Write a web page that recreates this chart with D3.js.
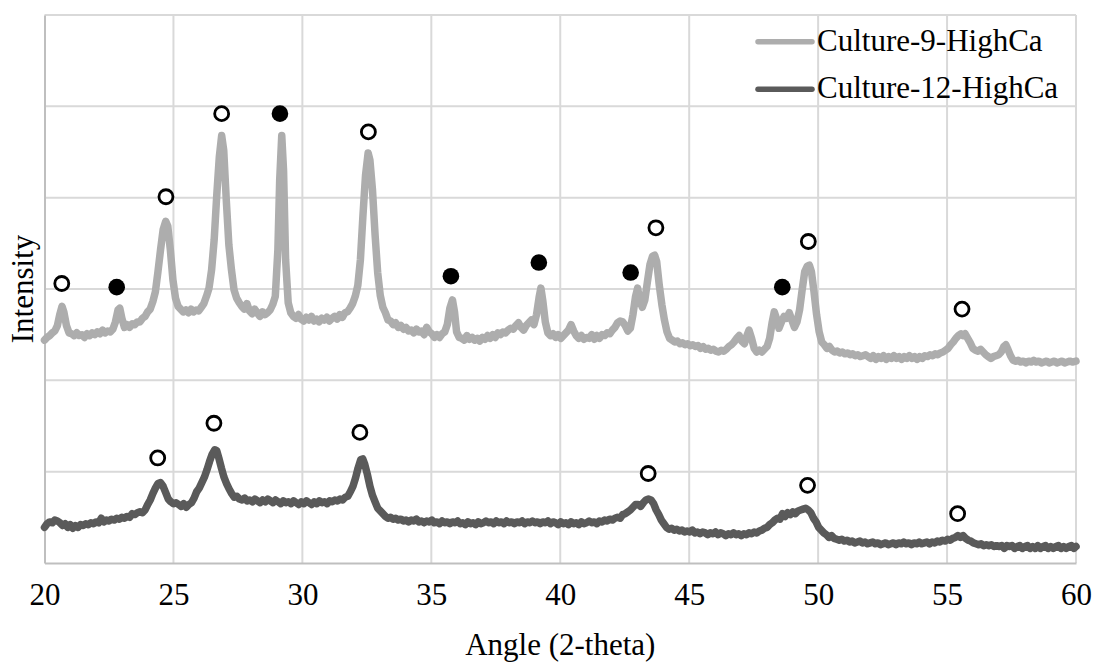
<!DOCTYPE html>
<html>
<head>
<meta charset="utf-8">
<script src="https://cdn.jsdelivr.net/npm/d3@7"></script>
<style>
  html, body { margin: 0; padding: 0; background: #fff; }
  svg { display: block; }
  svg text { font-family: 'Liberation Serif', 'Times New Roman', serif; }
</style>
</head>
<body>
<svg id="chart" width="1096" height="662"></svg>
<script>
// X-ray diffraction patterns: [2-theta angle, intensity (a.u.)]
const seriesNames = ["Culture-9-HighCa", "Culture-12-HighCa"];

const culture9 = [
[20.00,244],[20.10,247],[20.20,249],[20.30,252],[20.40,254],[20.50,260],[20.60,273],[20.68,281],[20.75,275],[20.85,260],
[20.95,252],[21.05,251],[21.15,249],[21.25,252],[21.35,249],[21.45,250],[21.55,247],[21.65,251],[21.75,249],[21.85,252],
[21.95,250],[22.05,253],[22.15,251],[22.25,255],[22.35,252],[22.45,254],[22.55,253],[22.65,256],[22.75,264],[22.85,277],
[22.92,279],[23.00,268],[23.10,258],[23.20,261],[23.30,258],[23.40,262],[23.50,261],[23.60,264],[23.70,264],[23.80,268],
[23.90,270],[24.00,275],[24.10,278],[24.20,286],[24.30,297],[24.40,319],[24.50,343],[24.60,365],[24.70,374],[24.78,369],
[24.88,343],[24.98,310],[25.08,290],[25.18,281],[25.28,278],[25.38,275],[25.48,277],[25.58,274],[25.68,278],[25.78,275],
[25.88,277],[25.98,276],[26.08,280],[26.18,284],[26.28,292],[26.38,301],[26.48,321],[26.58,354],[26.68,403],[26.78,445],
[26.87,468],[26.95,452],[27.05,397],[27.15,348],[27.25,321],[27.35,299],[27.45,290],[27.55,285],[27.65,281],[27.75,278],
[27.85,284],[27.95,276],[28.05,273],[28.15,278],[28.25,274],[28.35,270],[28.45,275],[28.55,272],[28.65,274],[28.75,277],
[28.85,283],[28.95,292],[29.05,343],[29.12,419],[29.20,468],[29.27,430],[29.35,332],[29.45,285],[29.55,274],[29.65,270],
[29.75,268],[29.85,272],[29.95,267],[30.05,265],[30.15,269],[30.25,266],[30.35,270],[30.45,265],[30.55,267],[30.65,264],
[30.75,268],[30.85,266],[30.95,269],[31.05,265],[31.15,268],[31.25,270],[31.35,267],[31.45,272],[31.55,269],[31.65,274],
[31.75,275],[31.85,279],[31.95,284],[32.05,292],[32.15,304],[32.25,332],[32.35,381],[32.45,425],[32.55,449],[32.62,441],
[32.72,408],[32.82,359],[32.92,318],[33.02,293],[33.12,280],[33.22,274],[33.32,266],[33.42,265],[33.52,261],[33.62,263],
[33.72,258],[33.82,260],[33.92,256],[34.02,258],[34.12,254],[34.22,255],[34.32,252],[34.42,256],[34.52,253],[34.62,254],
[34.72,250],[34.82,258],[34.92,253],[35.02,251],[35.12,247],[35.22,250],[35.32,247],[35.42,251],[35.52,253],[35.62,261],
[35.72,279],[35.82,288],[35.90,275],[35.98,253],[36.08,247],[36.18,246],[36.28,244],[36.38,249],[36.48,245],[36.58,247],
[36.68,244],[36.78,246],[36.88,243],[36.98,247],[37.08,245],[37.18,249],[37.28,246],[37.38,250],[37.48,247],[37.58,252],
[37.68,250],[37.78,253],[37.88,252],[37.98,255],[38.08,257],[38.18,256],[38.28,260],[38.38,263],[38.48,258],[38.58,255],
[38.68,260],[38.78,263],[38.88,266],[38.98,261],[39.08,272],[39.18,291],[39.25,301],[39.32,288],[39.42,264],[39.52,252],
[39.62,249],[39.72,251],[39.82,247],[39.92,250],[40.02,246],[40.12,249],[40.22,252],[40.32,255],[40.42,261],[40.52,254],
[40.62,249],[40.72,246],[40.82,249],[40.92,245],[41.02,247],[41.12,246],[41.22,250],[41.32,245],[41.42,249],[41.52,246],
[41.62,250],[41.72,249],[41.82,252],[41.92,251],[42.02,255],[42.12,258],[42.22,263],[42.32,265],[42.42,264],[42.52,260],
[42.62,254],[42.72,257],[42.82,272],[42.92,292],[43.00,301],[43.08,288],[43.18,280],[43.28,288],[43.38,308],[43.48,327],
[43.58,336],[43.66,337],[43.74,330],[43.84,304],[43.94,283],[44.04,266],[44.14,253],[44.24,246],[44.34,244],[44.44,242],
[44.54,243],[44.64,240],[44.74,241],[44.84,239],[44.94,240],[45.04,238],[45.14,239],[45.24,237],[45.34,238],[45.44,235],
[45.54,237],[45.64,234],[45.74,235],[45.84,233],[45.94,234],[46.04,232],[46.14,231],[46.24,233],[46.34,232],[46.44,234],
[46.54,237],[46.64,239],[46.74,242],[46.84,246],[46.94,249],[47.04,243],[47.14,240],[47.24,249],[47.32,255],[47.42,246],
[47.52,235],[47.62,231],[47.72,233],[47.82,231],[47.92,234],[48.02,237],[48.12,246],[48.22,264],[48.30,275],[48.38,268],
[48.48,257],[48.58,264],[48.68,270],[48.78,268],[48.88,274],[48.98,266],[49.08,258],[49.18,264],[49.28,277],[49.38,299],
[49.48,319],[49.58,325],[49.66,326],[49.74,319],[49.84,297],[49.94,272],[50.04,253],[50.14,242],[50.24,239],[50.34,235],
[50.44,237],[50.54,233],[50.64,231],[50.74,232],[50.84,230],[50.94,231],[51.04,229],[51.14,230],[51.24,228],[51.34,229],
[51.44,227],[51.54,228],[51.64,226],[51.74,227],[51.84,228],[51.94,226],[52.04,224],[52.14,227],[52.24,223],[52.34,226],
[52.44,224],[52.54,227],[52.64,223],[52.74,226],[52.84,224],[52.94,227],[53.04,224],[53.14,226],[53.24,223],[53.34,226],
[53.44,224],[53.54,227],[53.64,224],[53.74,226],[53.84,223],[53.94,226],[54.04,224],[54.14,227],[54.24,226],[54.34,228],
[54.44,227],[54.54,229],[54.64,228],[54.74,230],[54.84,231],[54.94,233],[55.04,235],[55.14,239],[55.24,242],[55.34,246],
[55.44,249],[55.54,251],[55.62,249],[55.70,251],[55.80,246],[55.90,241],[56.00,235],[56.10,233],[56.20,232],[56.30,234],
[56.40,231],[56.50,228],[56.60,226],[56.70,224],[56.80,226],[56.90,227],[57.00,228],[57.10,231],[57.20,237],[57.28,239],
[57.36,234],[57.46,227],[57.56,222],[57.66,221],[57.76,222],[57.86,220],[57.96,221],[58.06,219],[58.16,221],[58.26,220],
[58.36,222],[58.46,220],[58.56,221],[58.66,219],[58.76,220],[58.86,221],[58.96,219],[59.06,220],[59.16,221],[59.26,219],
[59.36,220],[59.46,221],[59.56,219],[59.66,220],[59.76,221],[59.86,220],[60.00,221]
];

const culture12 = [
[20.00,39],[20.10,43],[20.20,45],[20.30,44],[20.40,47],[20.50,46],[20.60,44],[20.70,41],[20.80,43],[20.90,39],
[21.00,42],[21.10,38],[21.20,41],[21.30,39],[21.40,42],[21.50,41],[21.60,43],[21.70,42],[21.80,44],[21.90,43],
[22.00,45],[22.10,44],[22.20,49],[22.30,45],[22.40,47],[22.50,46],[22.60,48],[22.70,47],[22.80,49],[22.90,48],
[23.00,50],[23.10,49],[23.20,51],[23.30,50],[23.40,54],[23.50,53],[23.60,55],[23.70,56],[23.80,55],[23.90,58],
[24.00,64],[24.10,69],[24.20,76],[24.30,82],[24.40,87],[24.50,88],[24.60,84],[24.70,77],[24.80,70],[24.90,67],
[25.00,65],[25.10,66],[25.20,64],[25.30,62],[25.40,65],[25.50,61],[25.60,64],[25.70,66],[25.80,71],[25.90,78],
[26.00,82],[26.10,88],[26.20,94],[26.30,102],[26.40,111],[26.50,119],[26.60,124],[26.68,123],[26.76,115],[26.86,104],
[26.96,94],[27.06,87],[27.16,81],[27.26,76],[27.36,72],[27.46,73],[27.56,70],[27.66,69],[27.76,71],[27.86,68],
[27.96,69],[28.06,67],[28.16,70],[28.26,68],[28.36,66],[28.46,69],[28.56,67],[28.66,70],[28.76,68],[28.86,66],
[28.96,69],[29.06,67],[29.16,65],[29.26,68],[29.36,66],[29.46,67],[29.56,65],[29.66,68],[29.76,66],[29.86,64],
[29.96,67],[30.06,65],[30.16,68],[30.26,66],[30.36,64],[30.46,67],[30.56,65],[30.66,68],[30.76,66],[30.86,67],
[30.96,65],[31.06,68],[31.16,67],[31.26,69],[31.36,68],[31.46,70],[31.56,69],[31.66,72],[31.76,73],[31.86,78],
[31.96,84],[32.06,93],[32.16,104],[32.26,113],[32.34,114],[32.42,108],[32.52,97],[32.62,84],[32.72,74],[32.82,67],
[32.92,60],[33.02,57],[33.12,54],[33.22,51],[33.32,49],[33.42,50],[33.52,48],[33.62,49],[33.72,47],[33.82,48],
[33.92,46],[34.02,47],[34.12,45],[34.22,47],[34.32,46],[34.42,48],[34.52,45],[34.62,46],[34.72,44],[34.82,46],
[34.92,45],[35.02,47],[35.12,44],[35.22,45],[35.32,43],[35.42,46],[35.52,44],[35.62,45],[35.72,43],[35.82,45],
[35.92,44],[36.02,46],[36.12,43],[36.22,44],[36.32,42],[36.42,45],[36.52,43],[36.62,44],[36.72,42],[36.82,45],
[36.92,43],[37.02,44],[37.12,46],[37.22,44],[37.32,45],[37.42,43],[37.52,46],[37.62,44],[37.72,45],[37.82,43],
[37.92,46],[38.02,44],[38.12,45],[38.22,43],[38.32,45],[38.42,44],[38.52,46],[38.62,43],[38.72,45],[38.82,44],
[38.92,46],[39.02,44],[39.12,45],[39.22,43],[39.32,45],[39.42,44],[39.52,46],[39.62,43],[39.72,45],[39.82,44],
[39.92,42],[40.02,45],[40.12,43],[40.22,44],[40.32,42],[40.42,45],[40.52,43],[40.62,44],[40.72,42],[40.82,45],
[40.92,43],[41.02,44],[41.12,46],[41.22,44],[41.32,45],[41.42,43],[41.52,46],[41.62,45],[41.72,47],[41.82,46],
[41.92,48],[42.02,47],[42.12,49],[42.22,50],[42.32,49],[42.42,53],[42.52,54],[42.62,56],[42.72,58],[42.82,61],
[42.92,64],[43.02,64],[43.12,62],[43.22,66],[43.32,69],[43.42,70],[43.52,69],[43.62,65],[43.72,58],[43.82,53],
[43.92,47],[44.02,43],[44.12,39],[44.22,37],[44.32,38],[44.42,36],[44.52,37],[44.62,35],[44.72,36],[44.82,34],
[44.92,35],[45.02,34],[45.12,36],[45.22,33],[45.32,34],[45.42,32],[45.52,34],[45.62,33],[45.72,31],[45.82,33],
[45.92,32],[46.02,34],[46.12,31],[46.22,33],[46.32,32],[46.42,30],[46.52,32],[46.62,31],[46.72,33],[46.82,31],
[46.92,32],[47.02,30],[47.12,32],[47.22,31],[47.32,33],[47.42,32],[47.52,34],[47.62,33],[47.72,35],[47.82,36],
[47.92,38],[48.02,39],[48.12,42],[48.22,44],[48.32,47],[48.42,49],[48.52,48],[48.62,54],[48.72,51],[48.82,55],
[48.92,53],[49.02,56],[49.12,54],[49.22,57],[49.32,58],[49.42,59],[49.52,60],[49.62,58],[49.72,55],[49.82,49],
[49.92,45],[50.02,39],[50.12,36],[50.22,33],[50.32,31],[50.42,28],[50.52,30],[50.62,27],[50.72,26],[50.82,25],
[50.92,26],[51.02,24],[51.12,25],[51.22,23],[51.32,24],[51.42,22],[51.52,23],[51.62,24],[51.72,22],[51.82,23],
[51.92,21],[52.02,22],[52.12,23],[52.22,21],[52.32,22],[52.42,20],[52.52,21],[52.62,22],[52.72,20],[52.82,21],
[52.92,22],[53.02,20],[53.12,22],[53.22,21],[53.32,23],[53.42,21],[53.52,22],[53.62,20],[53.72,22],[53.82,21],
[53.92,23],[54.02,21],[54.12,22],[54.22,23],[54.32,21],[54.42,23],[54.52,22],[54.62,24],[54.72,23],[54.82,25],
[54.92,24],[55.02,26],[55.12,25],[55.22,27],[55.32,28],[55.42,30],[55.52,28],[55.62,30],[55.72,27],[55.82,25],
[55.92,24],[56.02,22],[56.12,21],[56.22,20],[56.32,21],[56.42,19],[56.52,20],[56.62,19],[56.72,20],[56.82,18],
[56.92,19],[57.02,18],[57.12,19],[57.22,16],[57.32,19],[57.42,18],[57.52,19],[57.62,16],[57.72,18],[57.82,19],
[57.92,16],[58.02,18],[58.12,19],[58.22,16],[58.32,18],[58.42,16],[58.52,19],[58.62,16],[58.72,18],[58.82,19],
[58.92,16],[59.02,18],[59.12,16],[59.22,18],[59.32,19],[59.42,16],[59.52,18],[59.62,16],[59.72,18],[59.82,19],
[59.92,16],[60.00,18]
];

// Phase markers placed above the reflections
const openMarks9 = [[20.67,306],[24.71,401],[26.87,492],[32.56,472],[43.71,367],[49.62,352],[55.58,278]];
const filledMarks9 = [[22.80,302],[29.13,492],[35.76,314],[39.17,329],[42.73,318],[48.61,302]];
const openMarks12 = [[24.39,115],[26.57,153],[32.23,143],[43.41,98],[49.59,85],[55.41,54]];

const xTicks = [20, 25, 30, 35, 40, 45, 50, 55, 60];
const yTicks = [0, 100, 200, 300, 400, 500, 600];
const xTitle = "Angle (2-theta)";
const yTitle = "Intensity";
const colors = ["#adadad", "#5a5a5a"];

const svg = d3.select("#chart");
const W = 1096, H = 662;
const m = { left: 44.5, right: W - 1076, top: 15, bottom: H - 563 };

const x = d3.scaleLinear().domain([20, 60]).range([m.left, W - m.right]);
const y = d3.scaleLinear().domain([0, 600]).range([H - m.bottom, m.top]);

const serif = "'Liberation Serif', 'Times New Roman', serif";

// Gridlines
const grid = svg.append("g");
grid.selectAll("line.v").data(xTicks.slice(1)).join("line")
  .attr("x1", d => x(d)).attr("x2", d => x(d))
  .attr("y1", y(0)).attr("y2", y(600))
  .attr("stroke", "#d9d9d9").attr("stroke-width", 2);
grid.selectAll("line.h").data(yTicks.slice(1)).join("line")
  .attr("x1", x(20)).attr("x2", x(60))
  .attr("y1", d => y(d)).attr("y2", d => y(d))
  .attr("stroke", "#d9d9d9").attr("stroke-width", 2);

// Axes
const xAxis = svg.append("g")
  .attr("transform", `translate(0,${y(0)})`)
  .call(d3.axisBottom(x).tickValues(xTicks).tickSize(0).tickPadding(20).tickFormat(d3.format("d")));
xAxis.attr("font-family", serif).attr("font-size", 31);
xAxis.select(".domain").attr("stroke", "#bfbfbf").attr("stroke-width", 2);
xAxis.selectAll("text").style("font-family", serif).style("font-size", "31px").attr("fill", "#000");

const yAxis = svg.append("g")
  .attr("transform", `translate(${x(20)},0)`)
  .call(d3.axisLeft(y).tickValues(yTicks).tickSize(0).tickFormat(""));
yAxis.select(".domain").attr("stroke", "#bfbfbf").attr("stroke-width", 2);

// Axis titles
svg.append("text")
  .attr("x", (x(20) + x(60)) / 2).attr("y", 655)
  .attr("text-anchor", "middle")
  .style("font-family", serif).style("font-size", "31px")
  .text(xTitle);
svg.append("text")
  .attr("transform", `translate(33,${(y(0) + y(600)) / 2}) rotate(-90)`)
  .attr("text-anchor", "middle")
  .style("font-family", serif).style("font-size", "31px")
  .text(yTitle);

// Diffraction traces
const line = d3.line().x(d => x(d[0])).y(d => y(d[1]));
[culture9, culture12].forEach((s, i) => {
  svg.append("path")
    .datum(s)
    .attr("d", line)
    .attr("fill", "none")
    .attr("stroke", colors[i])
    .attr("stroke-width", 7.5)
    .attr("stroke-linejoin", "round")
    .attr("stroke-linecap", "round");
});

// Markers
const marks = svg.append("g");
marks.selectAll("circle.open").data(openMarks9.concat(openMarks12)).join("circle")
  .attr("cx", d => x(d[0])).attr("cy", d => y(d[1])).attr("r", 7)
  .attr("fill", "#fff").attr("stroke", "#000").attr("stroke-width", 2.8);
marks.selectAll("circle.filled").data(filledMarks9).join("circle")
  .attr("cx", d => x(d[0])).attr("cy", d => y(d[1])).attr("r", 8.3)
  .attr("fill", "#000");

// Legend
const legend = svg.append("g");
seriesNames.forEach((name, i) => {
  const ly = 41.7 + i * 47.6;
  legend.append("line")
    .attr("x1", 758).attr("x2", 812).attr("y1", ly).attr("y2", ly)
    .attr("stroke", colors[i]).attr("stroke-width", 5.5).attr("stroke-linecap", "round");
  legend.append("text")
    .attr("x", 817).attr("y", ly + 9)
    .style("font-family", serif).style("font-size", "31px")
    .text(name);
});
</script>
</body>
</html>
